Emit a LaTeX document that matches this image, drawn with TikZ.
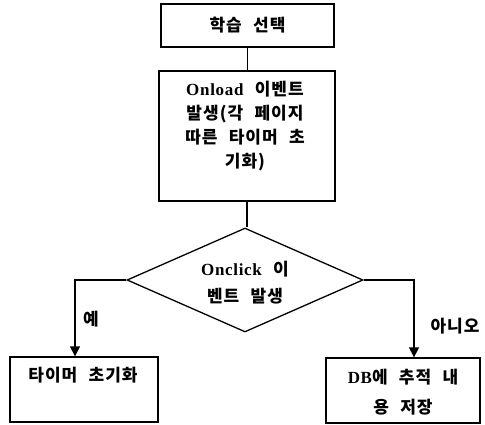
\documentclass[tikz,border=0pt]{standalone}
\usepackage{fontspec}
\setmainfont{Noto Sans CJK KR}[WordSpace=2.3,LetterSpace=6]
\newfontfamily\latf{Liberation Serif}[LetterSpace=4]
\usetikzlibrary{arrows.meta,shapes.geometric,calc}
\begin{document}
\begin{tikzpicture}[x=1pt,y=-1pt,line width=1.3pt,
  box/.style={draw,rectangle,inner sep=0pt},
  txt/.style={align=center,inner sep=0pt,font=\fontsize{17pt}{24pt}\selectfont\bfseries},
  arr/.style={-{Triangle[length=10pt,width=10pt]}}]
\useasboundingbox (0,0) rectangle (485,425);
\node[box,minimum width=173pt,minimum height=43pt] (b1) at (247.5,25.5) {};
\node[txt] (t1) at (247.5,25.5) {학습 선택};
\node[box,minimum width=176pt,minimum height=130pt] (b2) at (247,136) {};
\node[txt] (t2) at (245,126) {{\latf Onload} 이벤트\\발생(각 페이지\\따른 타이머 초\\기화)};
\node[draw,diamond,inner sep=0pt,minimum width=236pt,minimum height=104pt] (d) at (245,280) {};
\node[txt,font=\fontsize{17pt}{27pt}\selectfont\bfseries] (t3) at (245,283) {{\latf Onclick} 이\\벤트 발생};
\node[box,minimum width=148pt,minimum height=65pt] (b3) at (84,389.5) {};
\node[txt] (t4) at (83,375) {타이머 초기화};
\node[box,minimum width=154pt,minimum height=65pt] (b4) at (403,390.5) {};
\node[txt,font=\fontsize{17pt}{30pt}\selectfont\bfseries] (t5) at (403,392) {{\latf DB}에 추적 내\\용 저장};
\node[txt] (l1) at (91,319) {예};
\node[txt] (l2) at (455,326) {아니오};
\coordinate (ya) at (75,0);
\coordinate (yb) at (414,0);
\draw (b1.south) -- (b1.south |- b2.north);
\draw (b2.south) -- (b2.south |- d.north);
\draw[arr] (d.west) -| (ya |- b3.north);
\draw[arr] (d.east) -| (yb |- b4.north);
\end{tikzpicture}
\end{document}
